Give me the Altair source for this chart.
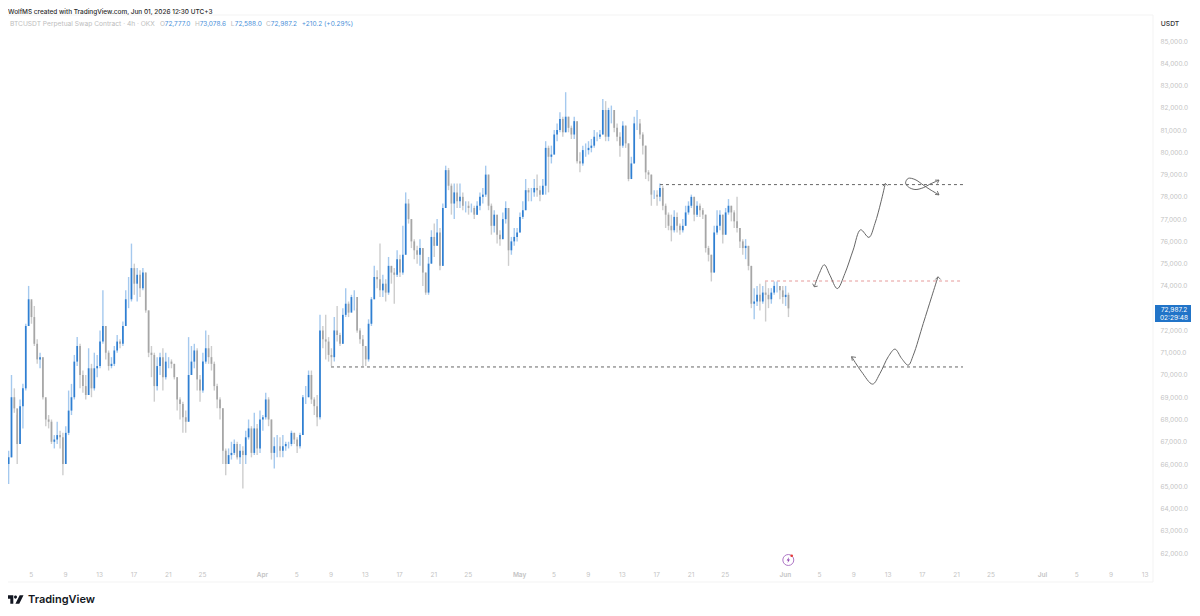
import altair as alt
import pandas as pd

closes = [66.0,66.3,69.0,68.5,66.9,68.6,69.4,72.2,73.4,72.6,71.4,70.7,70.8,69.0,68.0,67.9,67.0,67.1,67.3,67.2,
66.0,67.4,68.4,69.0,70.6,71.3,70.0,69.5,69.1,70.3,69.4,70.3,70.4,71.5,72.2,71.0,70.4,70.5,71.1,71.5,
71.4,72.2,73.4,73.4,74.8,74.1,74.5,73.9,74.6,72.9,71.0,70.9,69.5,70.4,70.8,69.9,70.6,70.6,70.5,69.9,
68.9,68.7,68.1,67.9,70.0,70.6,71.1,69.8,69.3,70.6,71.2,70.8,70.5,69.5,68.9,68.5,66.6,66.0,66.4,66.5,
66.9,66.3,66.6,66.4,67.2,67.6,66.5,67.6,66.7,68.0,68.1,68.9,68.0,66.5,66.8,66.8,66.6,66.8,66.9,66.9,
67.4,67.1,66.8,67.3,69.0,69.0,70.0,68.9,68.6,68.1,72.0,71.6,71.5,70.9,70.8,72.0,71.8,71.4,72.7,73.2,
72.8,73.5,73.5,72.0,71.6,71.3,70.7,72.3,73.4,74.4,74.3,73.8,74.1,73.7,74.9,74.6,74.5,75.2,74.6,75.4,
77.7,77.0,76.0,75.6,75.4,75.7,74.6,73.7,75.0,76.2,75.8,76.4,74.9,77.5,79.2,78.5,77.7,78.2,77.8,78.0,
77.6,77.6,77.5,77.5,77.2,77.6,78.0,78.1,79.0,77.6,76.7,77.2,76.3,76.1,77.0,77.5,75.6,76.0,76.2,76.4,
77.1,77.4,78.3,78.2,78.2,78.4,78.3,78.1,78.5,80.2,79.8,79.9,80.8,81.0,81.5,80.9,81.6,81.1,80.8,81.4,
79.6,79.5,80.1,80.1,80.2,80.3,80.7,80.7,80.8,81.9,80.7,81.9,81.9,81.1,80.7,80.3,81.2,80.4,78.8,79.5,
81.3,81.3,80.8,80.3,79.1,79.0,78.1,78.1,78.0,78.4,77.6,77.2,76.7,76.5,77.1,76.7,76.5,76.7,77.3,77.6,
78.0,77.2,77.6,77.4,77.2,75.7,75.4,74.6,76.4,76.7,77.2,76.3,77.3,77.6,77.3,76.9,76.6,76.0,75.7,75.8,
74.9,73.2,73.3,73.6,73.3,73.7,73.6,73.4,73.7,74.0,74.0,73.8,73.5,73.6,72.99]
highs = [66.9,66.6,70.0,69.4,68.2,68.9,69.6,72.3,74.0,73.3,73.1,71.6,71.0,70.8,68.9,68.2,68.0,67.3,67.9,67.5,
67.4,67.7,69.3,69.6,70.9,71.7,71.4,70.2,70.0,71.2,70.5,71.0,70.9,72.0,73.8,72.2,71.1,70.8,71.3,71.8,
71.6,72.4,73.8,74.4,75.9,75.0,74.8,74.7,74.8,74.6,72.9,71.3,71.0,70.8,71.0,71.2,71.0,70.8,70.7,70.5,
69.9,69.0,68.8,68.4,71.7,71.3,71.4,71.2,70.0,71.0,72.0,71.8,71.3,70.6,69.6,69.0,68.5,66.7,66.7,67.0,
67.1,67.0,66.9,66.8,67.5,68.0,67.7,68.3,67.8,68.4,68.2,69.2,69.0,68.0,67.2,67.3,67.2,67.3,67.0,67.0,
67.5,67.4,67.2,67.4,69.1,69.5,70.2,70.2,69.0,69.1,72.7,72.2,72.7,71.7,71.2,72.6,73.1,71.9,73.0,73.9,
73.3,73.6,73.8,73.0,72.1,71.8,71.2,72.5,73.5,74.9,74.7,75.9,74.5,74.3,75.3,74.9,74.8,75.6,75.4,76.7,
78.2,77.9,77.0,76.1,75.8,76.1,75.7,74.6,75.3,76.5,76.8,77.0,76.6,77.7,79.4,79.3,78.6,78.6,78.6,78.6,
78.2,77.8,77.8,77.7,77.6,77.8,78.2,78.4,79.4,79.0,77.7,77.4,77.2,76.5,77.3,77.8,77.5,76.2,76.6,76.6,
77.3,77.8,78.8,78.4,78.4,78.8,79.0,78.5,78.8,80.5,80.3,80.3,81.0,81.3,81.8,81.6,82.7,81.6,81.2,81.6,
81.4,80.0,80.3,80.4,80.5,80.6,81.0,80.9,81.0,82.4,82.3,82.0,82.1,81.9,81.3,80.9,81.4,81.2,80.4,79.8,
81.6,81.9,81.5,80.9,80.3,79.2,79.0,78.3,78.3,78.6,78.5,77.7,77.3,77.2,77.4,77.3,76.8,77.0,77.6,77.8,
78.1,78.0,77.8,77.7,77.5,77.2,75.8,75.4,76.7,77.4,77.4,77.2,77.5,77.9,77.6,77.4,78.0,76.6,76.1,76.1,
75.8,74.9,73.9,74.0,74.1,74.0,74.2,73.9,73.9,74.2,74.2,74.0,74.0,74.0,73.7]
lows = [65.2,65.1,66.3,68.3,66.0,66.9,67.6,69.3,72.2,72.3,71.3,70.5,70.3,68.9,67.7,67.6,66.9,66.7,66.9,66.7,
65.5,66.0,67.3,68.2,68.9,70.4,69.4,69.2,68.9,69.1,69.0,69.3,69.9,70.3,71.4,70.7,70.2,70.3,70.4,71.0,
71.2,71.3,72.2,73.0,73.3,73.6,73.3,73.5,73.8,72.8,70.8,69.9,68.8,69.3,70.0,69.3,69.8,70.3,70.3,69.8,
68.4,68.0,67.4,67.4,67.9,70.0,70.3,69.3,68.8,69.2,70.5,70.5,70.2,69.3,68.5,68.0,66.0,65.5,66.0,66.2,
66.4,66.2,66.0,64.9,66.0,67.1,66.3,66.4,66.4,66.5,67.5,68.0,67.7,66.2,65.8,66.3,66.3,66.3,66.6,66.7,
66.8,66.9,66.5,66.7,67.3,68.7,69.0,68.7,68.2,67.7,68.0,71.2,70.7,70.6,70.4,70.6,71.5,71.3,71.4,72.6,
72.6,72.9,72.9,71.9,71.4,70.4,70.4,70.6,72.2,73.4,73.9,73.5,73.5,73.3,73.6,74.1,73.2,74.4,74.4,74.5,
75.4,76.8,75.7,75.2,75.0,74.9,74.0,73.6,73.6,75.0,75.3,75.8,74.7,74.9,77.5,78.3,77.2,77.0,77.5,77.5,
77.4,77.3,77.2,77.3,77.0,77.2,77.4,77.7,78.0,77.4,76.3,76.4,75.9,75.8,76.1,76.8,74.9,75.4,75.8,76.0,
76.4,77.0,77.4,77.8,77.8,78.0,78.0,77.8,78.1,78.1,78.2,79.5,79.9,80.5,80.9,80.7,80.9,80.9,80.6,80.6,
79.5,79.1,79.4,79.8,79.9,80.0,80.2,80.5,80.6,80.8,80.5,80.5,81.3,80.9,80.5,79.8,80.2,80.2,78.7,78.9,
79.5,81.0,80.6,79.9,78.8,78.7,77.6,77.9,77.6,77.8,77.4,76.6,76.5,76.0,76.4,76.4,76.3,76.4,76.7,77.2,
77.5,76.9,77.1,77.1,77.0,75.5,75.1,74.2,74.6,76.3,76.5,75.9,76.3,77.2,76.9,76.6,76.4,75.7,75.4,75.2,
74.7,73.0,72.5,73.1,72.9,73.2,72.4,73.0,73.2,73.6,73.7,73.4,73.2,73.1,72.6]
first_open = 66.5
first_day = -29.9
candle_step_days = 1 / 3

tick_days = [-27,-23,-19,-15,-11,-7,0,4,8,12,16,20,24,30,34,38,42,46,50,54,61,65,69,73,77,81,85,91,95,99,103]
tick_labels = ["5","9","13","17","21","25","Apr","5","9","13","17","21","25","May","5","9","13","17","21","25","Jun","5","9","13","17","21","25","Jul","5","9","13"]
price_ticks = [p * 1000 for p in range(62, 86)]

level_start = [46.44, 58.7, 8.05]
level_end = [81.8, 81.8, 81.8]
level_price = [78550, 74220, 70360]
level_color = ["#666666", "#e59a9a", "#666666"]

curve_a_day = [64.45,65.03,65.61,66.27,67.13,68.02,68.98,69.85,70.82,71.52,72.23,72.73]
curve_a_price = [73.96,74.56,74.95,74.48,73.88,74.56,75.61,76.52,76.18,76.80,77.78,78.60]
curve_b_day = [68.80,69.97,71.25,72.11,73.08,73.86,74.64,75.41,76.0,77.16,78.14,78.88]
curve_b_price = [70.82,70.14,69.59,70.07,70.82,71.16,70.74,70.44,70.89,72.31,73.51,74.41]
curve_c_day = [79.0,77.94,77.16,76.19,75.41,75.10,75.41,76.19,77.16,77.94,79.0]
curve_c_price = [78.75,78.57,78.41,78.33,78.45,78.63,78.83,78.78,78.53,78.33,78.09]
barbs = [
    [(64.25,74.10),(64.45,73.96),(64.84,73.99)],
    [(72.46,78.48),(72.73,78.60),(73.00,78.51)],
    [(68.88,70.64),(68.80,70.82),(69.31,70.79)],
    [(78.57,74.29),(78.88,74.41),(79.19,74.29)],
    [(78.53,78.75),(79.00,78.75),(78.80,78.60)],
    [(78.53,78.11),(79.00,78.09),(78.80,78.26)],
]

rows = []
prev = first_open
for i, (c, h, l) in enumerate(zip(closes, highs, lows)):
    rows.append({"day": first_day + i * candle_step_days, "open": prev * 1000, "close": c * 1000,
                 "high": h * 1000, "low": l * 1000, "dir": "up" if c >= prev else "down"})
    prev = c
candles = pd.DataFrame(rows)

W, H = 1145, 553
x_scale = alt.Scale(domain=[-29.64, 103.97], nice=False, zero=False)
y_scale = alt.Scale(domain=[61330, 86168], nice=False, zero=False)

label_expr = "[" + ",".join(f"'{t}'" for t in tick_labels) + "][indexof([" + ",".join(map(str, tick_days)) + "],datum.value)]"
x_axis = alt.Axis(
    values=tick_days, labelExpr=label_expr, labelOverlap=False, domain=False, ticks=False, grid=False, title=None,
    labelPadding=3, labelFontSize=6.5, labelFont="Inter", labelColor="#c4c4c4", labelFlush=False,
    labelFontWeight={"condition": {"test": "indexof([0,30,61,91],datum.value)>=0", "value": 600}, "value": 400})
y_axis = alt.Axis(
    orient="right", values=price_ticks, format=",.1f", domain=False, ticks=False, grid=False, labelOverlap=False, title=None,
    labelPadding=7, labelFontSize=6.5, labelFont="Inter", labelColor="#c4c4c4")
x_day = alt.X("day:Q", scale=x_scale, axis=x_axis)

def y_of(field):
    return alt.Y(field, scale=y_scale, axis=y_axis)

wick_color = alt.Color("dir:N", legend=None, scale=alt.Scale(domain=["up", "down"], range=["#a5c9ee", "#cdcdcd"]))
body_color = alt.Color("dir:N", legend=None, scale=alt.Scale(domain=["up", "down"], range=["#2f7fd2", "#a6a6a6"]))

wicks = alt.Chart(candles).mark_rule(strokeWidth=1.4, clip=True).encode(x=x_day, y=y_of("low:Q"), y2="high:Q", color=wick_color)
bodies = alt.Chart(candles).mark_rule(strokeWidth=1.7, clip=True).encode(
    x=x_day, y=y_of("open:Q"), y2="close:Q", color=body_color)

lev = pd.DataFrame({"start": level_start, "end": level_end, "price": level_price, "color": level_color})
level_rules = alt.Chart(lev).mark_rule(strokeWidth=1, strokeDash=[3, 3]).encode(
    x=alt.X("start:Q", scale=x_scale, axis=x_axis), x2="end:Q", y=y_of("price:Q"),
    color=alt.Color("color:N", scale=None, legend=None))

curve_rows = []
for name, ds, ps in [("a", curve_a_day, curve_a_price), ("b", curve_b_day, curve_b_price), ("c", curve_c_day, curve_c_price)]:
    for k, (d, p) in enumerate(zip(ds, ps)):
        curve_rows.append({"id": name, "k": k, "day": d, "price": p * 1000})
curve_df = pd.DataFrame(curve_rows)
curves = alt.Chart(curve_df).mark_line(strokeWidth=1, color="#666666", interpolate="catmull-rom").encode(
    x=x_day, y=y_of("price:Q"), detail="id:N", order="k:Q")

barb_rows = []
for n, b in enumerate(barbs):
    for k, (d, p) in enumerate(b):
        barb_rows.append({"id": n, "k": k, "day": d, "price": p * 1000})
barb_lines = alt.Chart(pd.DataFrame(barb_rows)).mark_line(strokeWidth=0.9, color="#666666").encode(
    x=x_day, y=y_of("price:Q"), detail="id:N", order="k:Q")

one = pd.DataFrame({"a": [0]})

def px(x):
    return x - 8

def py(y):
    return y - 15

def label(text, x, y, size=6.6, color="#333333", align="left", weight=400, font="Inter"):
    return alt.Chart(one).mark_text(text=text, fontSize=size, color=color, align=align, baseline="middle",
                                    fontWeight=weight, font=font).encode(x=alt.value(px(x)), y=alt.value(py(y)))

texts = [
    label("WolfMS created with TradingView.com, Jun 01, 2026 12:30 UTC+3", 8, 11.5, 6.45, "#2a2a2a", weight=500),
    label("BTCUSDT Perpetual Swap Contract · 4h · OKX", 10, 24, 6.65, "#bdbdbd"),
    label("O", 160, 24, 6.5, "#bdbdbd"), label("72,777.0", 164.7, 24, 6.5, "#4a90d9"),
    label("H", 195, 24, 6.5, "#bdbdbd"), label("73,078.6", 199.7, 24, 6.5, "#4a90d9"),
    label("L", 230.7, 24, 6.5, "#bdbdbd"), label("72,588.0", 234.7, 24, 6.5, "#4a90d9"),
    label("C", 266, 24, 6.5, "#bdbdbd"), label("72,987.2", 270.7, 24, 6.5, "#4a90d9"),
    label("+210.2 (+0.29%)", 301.7, 24, 6.5, "#4a90d9"),
    label("USDT", 1170, 24, 6.8, "#333333", align="center", weight=500),
    label("72,987.2", 1174, 309.5, 6.5, "#ffffff", align="center"),
    label("02:29:48", 1174, 318, 6.5, "#ffffff", align="center"),
    label("TradingView", 28, 600, 11, "#131722", weight=600),
]

tag = alt.Chart(one).mark_rect(color="#2174c8").encode(
    x=alt.value(px(1155)), x2=alt.value(px(1191)), y=alt.value(py(305)), y2=alt.value(py(322)))

frame = [
    alt.Chart(one).mark_rule(color="#f3f3f3", strokeWidth=1).encode(x=alt.value(px(8)), x2=alt.value(px(1153)), y=alt.value(py(15))),
    alt.Chart(one).mark_rule(color="#f3f3f3", strokeWidth=1).encode(x=alt.value(px(8)), x2=alt.value(px(1153)), y=alt.value(py(582))),
    alt.Chart(one).mark_rule(color="#f3f3f3", strokeWidth=1).encode(x=alt.value(px(1153)), y=alt.value(py(15)), y2=alt.value(py(582))),
]

icon_ring = alt.Chart(one).mark_point(shape="circle", size=120, stroke="#8e3fb0", strokeWidth=1, filled=False).encode(
    x=alt.value(px(788.3)), y=alt.value(py(560)))
icon_bolt = alt.Chart(one).mark_point(shape="M0.25,-1 L-0.55,0.15 L-0.05,0.15 L-0.25,1 L0.55,-0.2 L0.05,-0.2 Z",
                                      size=36, fill="#8e3fb0", filled=True, opacity=1, strokeWidth=0).encode(
    x=alt.value(px(788.3)), y=alt.value(py(560)))
icon_dot = alt.Chart(one).mark_point(shape="circle", size=7, fill="#e53935", filled=True, opacity=1, strokeWidth=0).encode(
    x=alt.value(px(791.7)), y=alt.value(py(555.7)))
logo = alt.Chart(one).mark_point(
    shape="M-1,-0.5 H-0.2 V0.5 H-0.55 V-0.08 H-1 Z M-0.12,-0.28 a0.18,0.18 0 1 0 0.36,0 a0.18,0.18 0 1 0 -0.36,0 Z M0.55,-0.5 H1 L0.5,0.5 H0.05 Z",
    size=290, fill="#131722", filled=True, opacity=1, strokeWidth=0).encode(x=alt.value(px(15)), y=alt.value(py(599.5)))

chart = alt.layer(
    *frame, wicks, bodies, level_rules, curves, barb_lines, tag, *texts, icon_ring, icon_bolt, icon_dot, logo
).resolve_scale(color="independent").properties(
    width=W, height=H,
    padding={"left": 0, "top": 7, "right": 39, "bottom": 40},
    autosize=alt.AutoSizeParams(type="none"),
    background="#ffffff",
).configure_view(stroke=None)

chart.save("out.html", embed_options={"renderer": "svg", "actions": False})
